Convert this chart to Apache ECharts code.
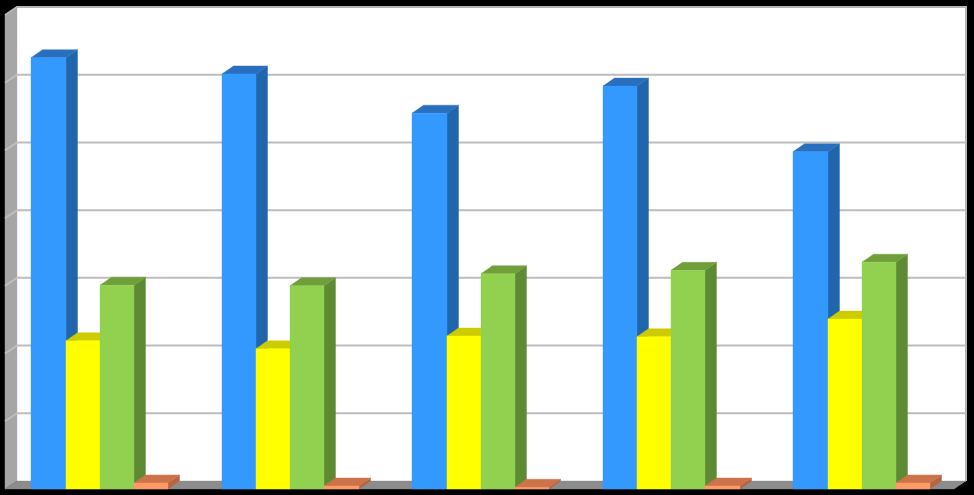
<!DOCTYPE html>
<html>
<head>
<meta charset="utf-8">
<style>html,body{margin:0;padding:0;background:#000}#c{width:974px;height:495px}</style>
<script src="https://cdn.jsdelivr.net/npm/echarts@6/dist/echarts.min.js"></script>
</head>
<body>
<div id="c"></div>
<script>
var categories = ['1', '2', '3', '4', '5'];
var blueValues = [63.7, 61.3, 55.5, 59.5, 49.8];
var yellowValues = [21.9, 20.7, 22.6, 22.5, 25.1];
var greenValues = [30.1, 30.0, 31.8, 32.3, 33.5];
var orangeValues = [0.9, 0.45, 0.25, 0.45, 0.9];
var gridTicks = [0, 10, 20, 30, 40, 50, 60, 70];

var DX = 11.5, DY = 8;

function poly(points, fill) {
  return { type: 'polygon', shape: { points: points }, style: { fill: fill, stroke: fill, lineWidth: 0.4 } };
}

function barSeries(idx, values, front, side, top) {
  return {
    type: 'custom',
    coordinateSystem: 'cartesian2d',
    z: 5 + idx,
    silent: true,
    clip: false,
    data: values.map(function (v, i) { return [i, v]; }),
    renderItem: function (params, api) {
      var c = api.coord([api.value(0), api.value(1)]);
      var base = api.coord([api.value(0), 0]);
      var band = api.size([1, 0])[0];
      var bw = band / 5.57;
      var x0 = Math.round(c[0] - 2 * bw + idx * bw);
      var x1 = Math.round(c[0] - 2 * bw + (idx + 1) * bw);
      var yT = c[1], yB = base[1];
      return {
        type: 'group',
        children: [
          poly([[x1, yT], [x1 + DX, yT - DY], [x1 + DX, yB - DY], [x1, yB]], side),
          poly([[x0, yT], [x0 + DX, yT - DY], [x1 + DX, yT - DY], [x1, yT]], top),
          poly([[x0, yT], [x1, yT], [x1, yB], [x0, yB]], front)
        ]
      };
    }
  };
}

var wallSeries = {
  type: 'custom',
  coordinateSystem: 'cartesian2d',
  z: 1,
  silent: true,
  clip: false,
  data: [[0, 0]],
  renderItem: function (params, api) {
    var cs = params.coordSys;
    var l = cs.x + 0.5, t = cs.y, b = cs.y + cs.height, r = cs.x + cs.width - 3;
    var dx = 12;
    return {
      type: 'group',
      children: [
        poly([[l + dx, t - DY], [r + dx, t - DY], [r + dx, b - DY], [l + dx, b - DY]], '#ffffff'),
        poly([[l, t], [l + dx, t - DY], [l + dx, b - DY], [l, b]], '#a6a6a6'),
        poly([[l, b], [l + dx, b - DY], [r + dx, b - DY], [r, b]], '#8c8c8c'),
        {
          type: 'polyline',
          shape: { points: [[l, t], [l + dx, t - DY], [r + dx, t - DY], [r + dx, b - DY]] },
          style: { fill: null, stroke: '#b4b4b4', lineWidth: 2 }
        }
      ]
    };
  }
};

var gridSeries = {
  type: 'custom',
  coordinateSystem: 'cartesian2d',
  z: 2,
  silent: true,
  clip: false,
  data: gridTicks.slice(1, -1).map(function (v) { return [0, v]; }),
  renderItem: function (params, api) {
    var cs = params.coordSys;
    var y = api.coord([0, api.value(1)])[1];
    var l = cs.x + 0.5, r = cs.x + cs.width - 3;
    return {
      type: 'polyline',
      shape: { points: [[l, y], [l + 12, y - DY], [r + 12, y - DY]] },
      style: { fill: null, stroke: '#bdbdbd', lineWidth: 2 }
    };
  }
};

var chart = echarts.init(document.getElementById('c'), null, { renderer: 'canvas' });
chart.setOption({
  animation: false,
  backgroundColor: '#000000',
  grid: { left: 4.5, top: 15, width: 952.5, height: 474 },
  xAxis: { type: 'category', data: categories, show: false },
  yAxis: { type: 'value', min: 0, max: 70, interval: 10, show: false },
  series: [
    wallSeries,
    gridSeries,
    barSeries(0, blueValues, '#3399ff', '#2166ad', '#2a6fbd'),
    barSeries(1, yellowValues, '#ffff00', '#b3b300', '#cccc00'),
    barSeries(2, greenValues, '#92d050', '#5f8a34', '#6f9e3b'),
    barSeries(3, orangeValues, '#ff9966', '#b8643f', '#cc7349')
  ]
});
</script>
</body>
</html>
